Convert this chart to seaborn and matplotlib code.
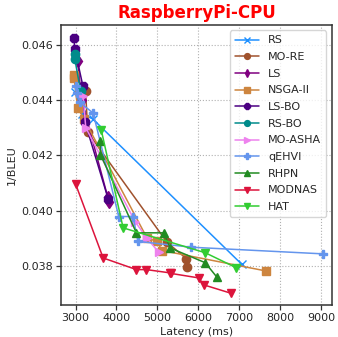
import matplotlib
matplotlib.use("Agg")
import matplotlib.pyplot as plt
import seaborn as sns
import pandas as pd

# ---- data (latency in ms, 1/BLEU) ----
methods = ["RS", "MO-RE", "LS", "NSGA-II", "LS-BO", "RS-BO", "MO-ASHA", "qEHVI", "RHPN", "MODNAS", "HAT"]

rs_x = [2990, 3163, 3420, 7066]
rs_y = [0.0443, 0.04350, 0.04332, 0.03806]

more_x = [3244, 3300, 5236, 5707, 5724]
more_y = [0.04434, 0.04283, 0.03886, 0.03827, 0.03796]

ls_x = [3049, 3150, 3790, 3812]
ls_y = [0.04543, 0.04400, 0.04048, 0.04032]

nsga_x = [2951, 2965, 3049, 3212, 4749, 4993, 5113, 7659]
nsga_y = [0.04491, 0.04480, 0.04373, 0.04330, 0.03901, 0.03889, 0.03856, 0.03782]

lsbo_x = [2959, 2983, 3178, 3227, 3800]
lsbo_y = [0.04623, 0.04584, 0.04452, 0.04322, 0.04042]

rsbo_x = [2976, 2983, 3122]
rsbo_y = [0.04566, 0.04548, 0.04434]

moasha_x = [3185, 3250, 4463, 4749, 5033]
moasha_y = [0.04416, 0.04300, 0.03959, 0.03900, 0.03850]

qehvi_x = [3000, 3041, 3105, 3430, 4057, 4406, 4528, 5829, 9041]
qehvi_y = [0.04452, 0.04424, 0.04392, 0.04353, 0.03979, 0.03979, 0.03889, 0.03868, 0.03844]

rhpn_x = [3600, 3610, 4488, 5154, 5317, 6171, 6455]
rhpn_y = [0.04253, 0.04203, 0.03920, 0.03920, 0.03865, 0.03812, 0.03760]

modnas_x = [3000, 3675, 4488, 4732, 5317, 5340, 6010, 6130, 6790]
modnas_y = [0.04097, 0.03829, 0.03787, 0.03787, 0.03775, 0.03773, 0.03757, 0.03732, 0.03702]

hat_x = [3627, 4163, 6171, 6927]
hat_y = [0.04293, 0.03938, 0.03848, 0.03794]

xs = [rs_x, more_x, ls_x, nsga_x, lsbo_x, rsbo_x, moasha_x, qehvi_x, rhpn_x, modnas_x, hat_x]
ys = [rs_y, more_y, ls_y, nsga_y, lsbo_y, rsbo_y, moasha_y, qehvi_y, rhpn_y, modnas_y, hat_y]

colors = ["#1E90FF", "#A0522D", "#800080", "#CD853F", "#4B0082", "#008B8B",
          "#EE82EE", "#6495ED", "#228B22", "#DC143C", "#32CD32"]
markers = ["x", "o", "d", "s", "8", "o", ">", "P", "^", "v", "v"]

x_ticks = [3000, 4000, 5000, 6000, 7000, 8000, 9000]
y_ticks = [0.038, 0.040, 0.042, 0.044, 0.046]

sns.set_theme(style="whitegrid")
plt.rcParams["font.family"] = ["DejaVu Sans"]

fig = plt.figure(figsize=(3.38, 3.37), dpi=100)
ax = fig.add_axes([0.180, 0.095, 0.802, 0.831])

for name, x, y, c, m in zip(methods, xs, ys, colors, markers):
    df = pd.DataFrame({"x": x, "y": y})
    sns.lineplot(data=df, x="x", y="y", ax=ax, color=c, marker=m, label=name,
                 sort=False, estimator=None, linewidth=1.1, markersize=6,
                 markeredgecolor=c, markeredgewidth=1.0)

ax.set_xlim(2640, 9270)
ax.set_ylim(0.03659, 0.04672)
ax.set_xticks(x_ticks)
ax.set_yticks(y_ticks)
ax.set_yticklabels([f"{v:.3f}" for v in y_ticks])
ax.grid(True, linestyle=":", color="#b0b0b0", linewidth=0.8)
for s in ax.spines.values():
    s.set_color("#333333")
    s.set_linewidth(1.1)
ax.tick_params(axis="both", which="major", labelsize=8, length=3.5, width=0.9,
               color="#333333", direction="out", left=True, bottom=True, pad=2)
ax.set_xlabel("Latency (ms)", fontsize=8, labelpad=3)
ax.set_ylabel("1/BLEU", fontsize=8, labelpad=3)
ax.set_title("RaspberryPi-CPU", fontsize=12, fontweight="bold", color="red", pad=5)

leg = ax.legend(loc="upper right", fontsize=8, markerscale=0.7, frameon=True,
                handlelength=2.2, labelspacing=0.6, borderpad=0.45,
                bbox_to_anchor=(1.0, 1.0))
leg.get_frame().set_edgecolor("#cccccc")

fig.savefig("out.png", dpi=100)
